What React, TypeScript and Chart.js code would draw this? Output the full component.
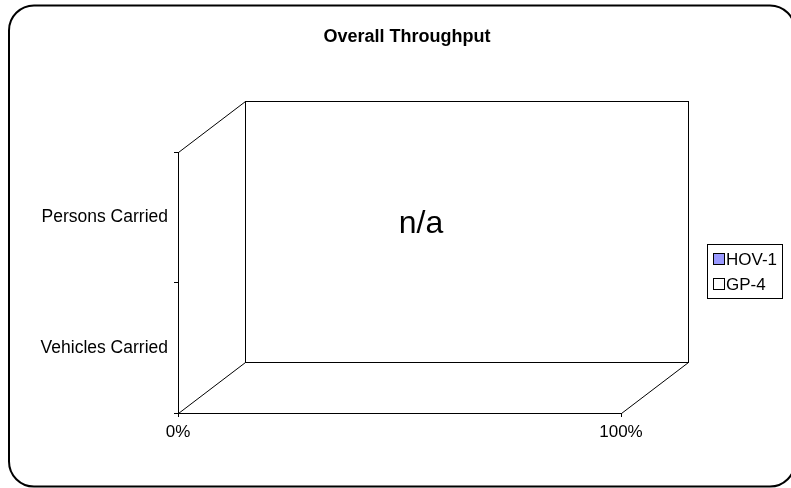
import React, { useEffect, useRef } from "react";
import { Chart, registerables } from "chart.js";

Chart.register(...registerables);

const chartTitle = "Overall Throughput";
const categories = ["Persons Carried", "Vehicles Carried"];
const seriesNames = ["HOV-1", "GP-4"];
const hovValues: (number | null)[] = [null, null];
const gpValues: (number | null)[] = [null, null];
const xTickValues = [0, 1];
const noDataText = "n/a";

const FONT = "'Liberation Sans', Arial, sans-serif";
const seriesColors = ["#9999FF", "#FFFFFF"];

const decorPlugin = {
  id: "decor",
  afterDraw(chart: any) {
    const ctx = chart.ctx as CanvasRenderingContext2D;
    const { left: L, right: R, top: T, bottom: B } = chart.chartArea;
    const dx = 67;
    const dy = -51;
    ctx.save();
    // 3D walls
    ctx.strokeStyle = "#000";
    ctx.lineWidth = 1;
    ctx.beginPath();
    ctx.moveTo(L + 0.5, T + 0.5);
    ctx.lineTo(L + dx + 0.5, T + dy + 0.5);
    ctx.moveTo(L + 0.5, B + 0.5);
    ctx.lineTo(L + dx + 0.5, B + dy + 0.5);
    ctx.moveTo(R + 0.5, B + 0.5);
    ctx.lineTo(R + dx + 0.5, B + dy + 0.5);
    ctx.stroke();
    ctx.strokeRect(Math.round(L + dx) + 0.5, Math.round(T + dy) + 0.5, Math.round(R - L), Math.round(B - T));

    // n/a
    ctx.fillStyle = "#000";
    ctx.font = `32px ${FONT}`;
    ctx.textAlign = "center";
    ctx.textBaseline = "alphabetic";
    ctx.fillText(noDataText, 421, 233);

    // title
    ctx.font = `bold 18px ${FONT}`;
    ctx.textBaseline = "middle";
    ctx.fillText(chartTitle, 407, 37);

    // legend
    const lx = 707, ly = 244, lw = 75, lh = 54;
    ctx.lineWidth = 1;
    ctx.strokeRect(lx + 0.5, ly + 0.5, lw, lh);
    ctx.font = `17px ${FONT}`;
    ctx.textAlign = "left";
    seriesNames.forEach((name, i) => {
      const cy = 259 + i * 25;
      ctx.fillStyle = seriesColors[i];
      ctx.fillRect(713, cy - 6, 11, 11);
      ctx.strokeStyle = "#000";
      ctx.strokeRect(713.5, cy - 5.5, 11, 11);
      ctx.fillStyle = "#000";
      ctx.fillText(name, 726, cy + 1);
    });

    // outer rounded border
    ctx.lineWidth = 2;
    ctx.beginPath();
    ctx.roundRect(9, 5.5, 786, 481, 25);
    ctx.stroke();
    ctx.restore();
  },
};

export default function App() {
  const ref = useRef<HTMLCanvasElement>(null);
  useEffect(() => {
    if (!ref.current) return;
    const chart = new Chart(ref.current, {
      type: "bar",
      data: {
        labels: categories,
        datasets: [
          { label: seriesNames[0], data: hovValues, backgroundColor: seriesColors[0], borderColor: "#000", borderWidth: 1 },
          { label: seriesNames[1], data: gpValues, backgroundColor: seriesColors[1], borderColor: "#000", borderWidth: 1 },
        ],
      },
      plugins: [decorPlugin],
      options: {
        indexAxis: "y",
        animation: false,
        responsive: false,
        devicePixelRatio: 1,
        layout: { padding: { left: 0, top: 152, right: 170, bottom: 0 } },
        plugins: {
          legend: { display: false },
          title: { display: false },
          tooltip: { enabled: false },
        },
        scales: {
          x: {
            type: "linear",
            stacked: true,
            min: 0,
            max: 1,
            afterBuildTicks: (scale: any) => {
              scale.ticks = xTickValues.map((v) => ({ value: v }));
            },
            afterFit: (scale: any) => {
              scale.height = 75;
            },
            ticks: {
              color: "#000",
              font: { family: FONT, size: 17 },
              padding: 5,
              callback: (v: any) => `${Math.round(Number(v) * 100)}%`,
            },
            grid: { drawOnChartArea: false, tickLength: 4, color: "#000" },
            border: { display: true, color: "#000" },
          },
          y: {
            type: "category",
            stacked: true,
            offset: true,
            afterFit: (scale: any) => {
              scale.width = 178;
            },
            ticks: {
              color: "#000",
              font: { family: FONT, size: 17.5 },
              padding: 6,
            },
            grid: { offset: true, drawOnChartArea: false, tickLength: 4, color: "#000" },
            border: { display: true, color: "#000" },
          },
        },
      },
    } as any);
    return () => chart.destroy();
  }, []);
  return (
    <div style={{ position: "absolute", left: 0, top: 0, width: 791, height: 488, background: "#fff" }}>
      <canvas ref={ref} width={791} height={488} style={{ display: "block" }} />
    </div>
  );
}
